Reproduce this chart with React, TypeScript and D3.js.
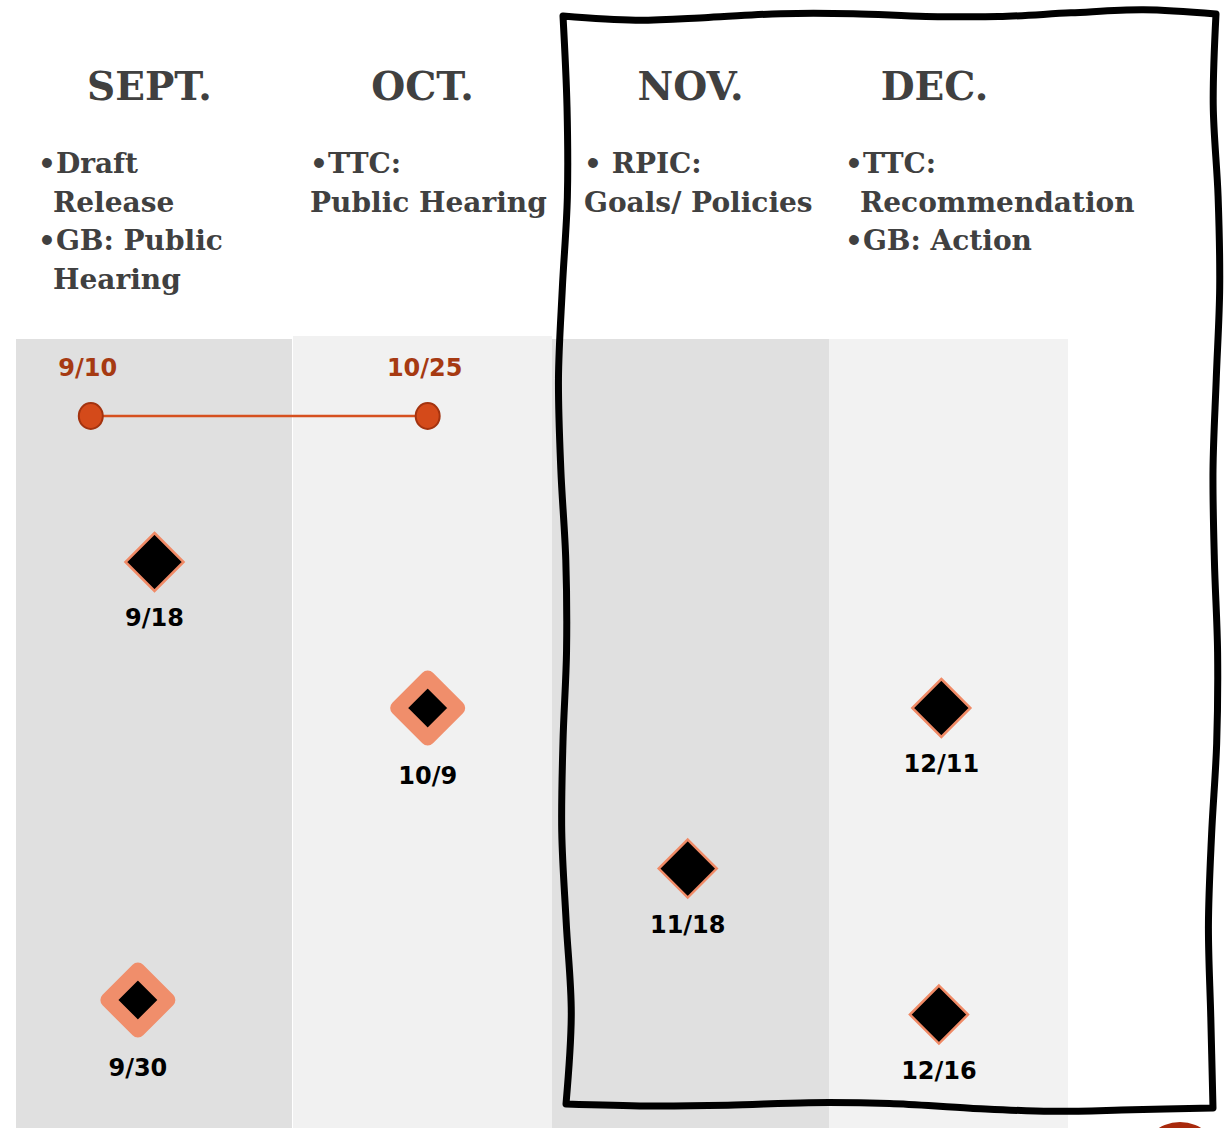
import React from "react";
import * as d3 from "d3";

// Months shown as columns
const months = ["SEPT.", "OCT.", "NOV.", "DEC."];

// Notes under each month (lines starting with "•" are bullets)
const monthNotes = [
  ["•Draft", "Release", "•GB: Public", "Hearing"],
  ["•TTC:", "Public Hearing"],
  ["• RPIC:", "Goals/ Policies"],
  ["•TTC:", "Recommendation", "•GB: Action"],
];
// hanging indent for continuation lines
const noteHang = [true, false, false, true];

// Comment period (circles joined by a line)
const periodDates = ["9/10", "10/25"];
const periodMonth = [0, 1];
const periodAt = [0.27, 0.52];

// Milestones (diamonds)
const mileDates = ["9/18", "9/30", "10/9", "11/18", "12/11", "12/16"];
const mileMonth = [0, 0, 1, 2, 3, 3];
const mileAt = [0.5, 0.44, 0.52, 0.49, 0.47, 0.46];
const mileStep = [1, 4, 2, 3.1, 2, 4.1];
const mileRing = [false, true, true, false, false, false];

const W = 1230;
const H = 1128;
const notePad = [22, 17, 32, 16];
const colFill = ["#e0e0e0", "#f1f1f1", "#e0e0e0", "#f2f2f2"];
const colTop = [339, 336, 339, 339];

const serif = "'DejaVu Serif', serif";
const sans = "'DejaVu Sans', sans-serif";

export default function App() {
  // piecewise scale: month index -> column edge
  const x = d3.scaleLinear().domain([0, 1, 2, 3, 4]).range([16, 293, 552, 829, 1068]);
  const y = d3.scaleLinear().domain([0, 4]).range([416, 1000]);

  const diamond = (r: number) => `M0,${-r}L${r},0L0,${r}L${-r},0Z`;

  // hand-drawn box around Nov/Dec, sharp corners, wavy edges
  const L = 566, R = 1216, T = 12, B = 1108;
  const wob = (i: number, a: number, amp: number) =>
    Math.sin(i * 1.3 + a) * amp + Math.sin(i * 0.5 + a * 2) * amp * 0.5;
  const edge = (
    p0: [number, number],
    p1: [number, number],
    k: number,
    a: number,
    amp: number
  ) => {
    const pts: [number, number][] = [];
    const dx = p1[0] - p0[0], dy = p1[1] - p0[1];
    const len = Math.hypot(dx, dy);
    const nx = -dy / len, ny = dx / len;
    for (let i = 0; i <= k; i++) {
      const t = i / k;
      const w = i === 0 || i === k ? 0 : wob(i, a, amp);
      pts.push([p0[0] + dx * t + nx * w, p0[1] + dy * t + ny * w]);
    }
    return d3.line().curve(d3.curveCatmullRom.alpha(0.5))(pts) || "";
  };
  const segs = [
    edge([L - 3, T + 4], [R, T + 2], 9, 0.4, 3),
    edge([R, T + 2], [R - 3, B], 12, 1.2, 3.5),
    edge([R - 3, B], [L, B - 4], 8, 2.1, 3),
    edge([L, B - 4], [L - 3, T + 4], 12, 0.7, 4),
  ];
  const boxPath = segs.map((s, i) => (i === 0 ? s : s.replace(/^M/, "L"))).join("") + "Z";

  const px = periodAt.map((a, i) => x(periodMonth[i] + a));

  return (
    <svg
      width={W}
      height={H}
      style={{ position: "absolute", left: 0, top: 0, background: "#fff" }}
    >
      {/* column backgrounds */}
      {months.map((_, i) => (
        <rect
          key={"c" + i}
          x={x(i)}
          y={colTop[i]}
          width={x(i + 1) - x(i) - (i === 0 ? 1 : 0)}
          height={H - colTop[i]}
          fill={colFill[i]}
        />
      ))}

      {/* month headings */}
      {months.map((mName, i) => (
        <text
          key={"h" + i}
          x={(x(i) + x(i + 1)) / 2 - (i === 3 ? 14 : i === 0 ? 5 : 0)}
          y={100}
          textAnchor="middle"
          fontFamily={serif}
          fontWeight="bold"
          fontSize={39}
          fill="#404040"
        >
          {mName}
        </text>
      ))}

      {/* notes */}
      {monthNotes.map((lines, i) =>
        lines.map((ln, j) => (
          <text
            key={"n" + i + "-" + j}
            x={x(i) + notePad[i] + (!ln.startsWith("•") && noteHang[i] ? 15 : 0)}
            y={173 + j * 38.5}
            fontFamily={serif}
            fontWeight="bold"
            fontSize={28}
            fill="#404040"
          >
            {ln}
          </text>
        ))
      )}

      {/* period line + circles */}
      <line x1={px[0]} x2={px[1]} y1={y(0)} y2={y(0)} stroke="#d6501f" strokeWidth={2.5} />
      {periodDates.map((d, i) => (
        <g key={"p" + i} transform={`translate(${px[i]},${y(0)})`}>
          <ellipse rx={12} ry={13} fill="#d44a1a" stroke="#a3330f" strokeWidth={2} />
          <text
            x={-3}
            y={-40}
            textAnchor="middle"
            fontFamily={sans}
            fontWeight="bold"
            fontSize={24}
            fill="#a63a12"
          >
            {d}
          </text>
        </g>
      ))}

      {/* milestones */}
      {mileDates.map((d, i) => (
        <g key={"m" + i} transform={`translate(${x(mileMonth[i] + mileAt[i])},${y(mileStep[i])})`}>
          {mileRing[i] ? (
            <path d={diamond(30)} fill="#000" stroke="#f08e6b" strokeWidth={15} strokeLinejoin="round" />
          ) : (
            <path d={diamond(29)} fill="#000" stroke="#f08a66" strokeWidth={2.5} />
          )}
          <text
            y={mileRing[i] ? 76 : 64}
            textAnchor="middle"
            fontFamily={sans}
            fontWeight="bold"
            fontSize={24}
            fill="#000"
          >
            {d}
          </text>
        </g>
      ))}

      {/* hand drawn box */}
      <path d={boxPath} fill="none" stroke="#000" strokeWidth={7} strokeLinejoin="round" />

      {/* partial red dot in the corner */}
      <circle cx={1180} cy={1162} r={40} fill="#a8290c" />
    </svg>
  );
}
